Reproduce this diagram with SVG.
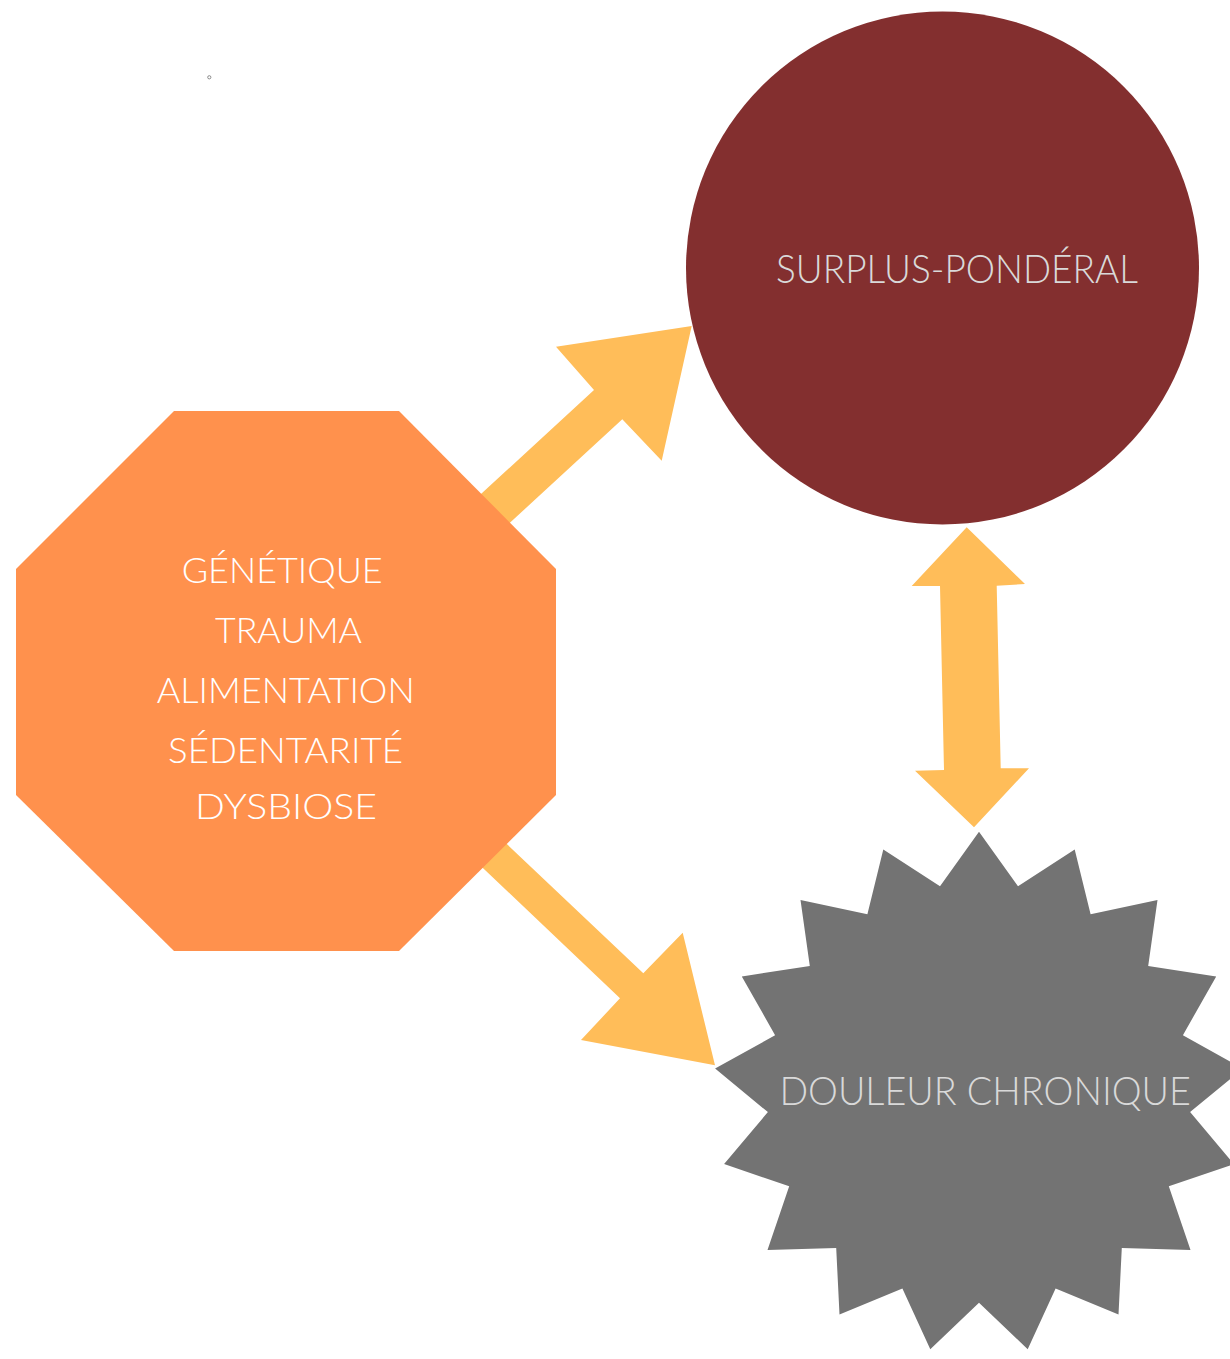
<svg xmlns="http://www.w3.org/2000/svg" width="1230" height="1359" viewBox="0 0 1230 1359">
<style>
.arrow{fill:#FFBD59;}
.lbl{font-family:"Lato","Liberation Sans",sans-serif;font-weight:300;}
.w{fill:#FFFFFF;font-size:36px;}
.g{fill:#D9D9D9;font-size:40px;}
</style>
<rect width="1230" height="1359" fill="#FFFFFF"/>
<circle cx="209.3" cy="77.3" r="1.6" fill="none" stroke="#8a8a8a" stroke-width="1"/>
<g id="connectors">
<polygon class="arrow" points="440,531.7 594,390 556,346.7 691.7,326 661.7,460.7 622.3,419.3 467.6,561.7"/>
<polygon class="arrow" points="450,790.3 643.3,973.3 682.7,932.7 715,1065.3 581,1040 620,998.3 426.8,814.7"/>
<polygon class="arrow" points="966.7,527.3 1025,584 996.7,585.7 1000.7,768.3 1029,768.3 974,827.3 915,770.7 944,770 940,586 911.7,586"/>
</g>
<g id="node-causes">
<polygon fill="#FF914D" points="174,411 399,411 556,569 556,795 399,951 174,951 16,795 16,569"/>
<text class="lbl w" x="181.7" y="583" textLength="201" lengthAdjust="spacingAndGlyphs">GÉNÉTIQUE</text>
<text class="lbl w" x="215" y="643" textLength="147" lengthAdjust="spacingAndGlyphs">TRAUMA</text>
<text class="lbl w" x="156.7" y="703" textLength="258" lengthAdjust="spacingAndGlyphs">ALIMENTATION</text>
<text class="lbl w" x="168" y="763" textLength="235" lengthAdjust="spacingAndGlyphs">SÉDENTARITÉ</text>
<text class="lbl w" x="195" y="818.5" textLength="182" lengthAdjust="spacingAndGlyphs">DYSBIOSE</text>
</g>
<g id="node-surplus">
<circle cx="942.5" cy="268" r="256.5" fill="#832F2F"/>
<text class="lbl g" x="776" y="283" textLength="362" lengthAdjust="spacingAndGlyphs">SURPLUS-PONDÉRAL</text>
</g>
<g id="node-douleur">
<polygon fill="#737373" points="979,831.8 1018,886.3 1074.7,849.4 1090.6,914.2 1157.5,899.9 1148.2,966.1 1216.2,976.4 1182.9,1035.2 1242.9,1068.6 1190.1,1112.1 1233.9,1164.1 1168.8,1186.3 1190.5,1249.9 1121.8,1247.9 1118.5,1314.5 1055.6,1288.5 1027.7,1349.2 979,1302.7 930.3,1349.2 902.4,1288.5 839.5,1314.5 836.2,1247.9 767.5,1249.9 789.2,1186.3 724.1,1164.1 767.9,1112.1 715.1,1068.6 775.1,1035.2 741.8,976.4 809.8,966.1 800.5,899.9 867.4,914.2 883.3,849.4 940,886.3"/>
<text class="lbl g" x="779.4" y="1105" textLength="411.5" lengthAdjust="spacingAndGlyphs">DOULEUR CHRONIQUE</text>
</g>
</svg>
